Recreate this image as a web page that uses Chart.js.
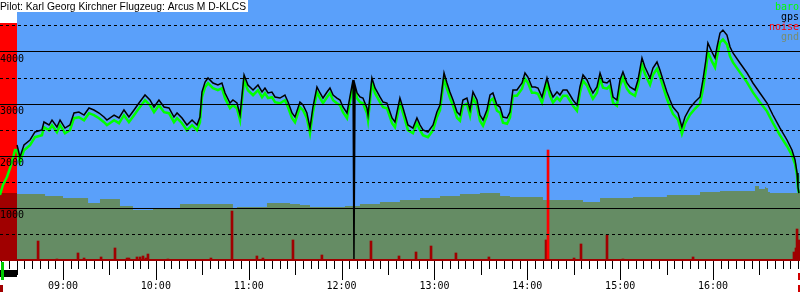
<!DOCTYPE html>
<html lang="de">
<head>
<meta charset="UTF-8">
<title>Barogramm</title>
<script src="https://cdn.jsdelivr.net/npm/chart.js@4"></script>
<style>
  html, body { margin: 0; padding: 0; background: #fff; }
</style>
</head>
<body>
<canvas id="baro" width="800" height="300"></canvas>
<script>
const title = 'Pilot: Karl Georg Kirchner Flugzeug: Arcus M D-KLCS';

// times are minutes after midnight, altitudes in m
const xMin = 499.3, xMax = 1016.2;
const engineRun = [499.3, 510.3];   // red band before release
const bandTop = 4560;
const launchMark = 500.8;
const landMark = 1015.5;

const launchTime = [499.3, 501.2, 503.8, 505.8, 507.7, 509.0];
const launchAlt  = [1250, 1442, 1596, 1769, 1962, 2115];

const flightTime = [
  510.3, 512.2, 514.8, 518.7, 521.9, 526.4, 527.7, 531.0, 532.9, 536.1,
  538.1, 541.3, 544.5, 547.1, 550.3, 553.6, 556.8, 560.0, 563.3, 566.5,
  568.4, 573.0, 576.2, 579.4, 582.6, 585.9, 589.1, 593.0, 596.2, 598.8,
  602.0, 605.3, 608.5, 611.7, 613.7, 616.9, 620.1, 623.4, 626.6, 628.5,
  629.8, 631.8, 633.7, 636.9, 640.1, 642.7, 644.7, 647.9, 649.8, 652.4,
  654.4, 657.0, 659.5, 662.8, 666.0, 668.6, 670.5, 672.5, 675.0, 677.0,
  680.2, 683.4, 685.4, 688.0, 689.9, 693.1, 695.1, 697.6, 699.6, 701.5,
  704.1, 706.1, 708.0, 710.6, 712.5, 714.5, 717.0, 719.0, 720.9, 723.5,
  725.4, 727.4, 728.0, 728.7, 730.0, 731.9, 733.8, 736.4, 737.1, 739.6,
  741.6, 744.8, 746.8, 749.3, 752.6, 754.5, 757.7, 759.7, 762.9, 766.1,
  768.7, 770.7, 772.6, 775.8, 779.1, 781.6, 783.6, 786.2, 788.1, 790.0,
  792.0, 794.6, 796.5, 798.4, 801.0, 803.0, 804.9, 807.5, 809.4, 811.4,
  813.9, 815.9, 817.8, 820.4, 822.4, 824.3, 826.9, 828.8, 830.7, 833.3,
  836.6, 838.5, 840.4, 843.0, 845.0, 846.9, 849.5, 852.7, 854.7, 856.6,
  859.2, 861.1, 863.1, 865.6, 867.6, 869.5, 872.1, 874.0, 876.0, 878.6,
  880.5, 882.4, 885.0, 887.0, 888.9, 891.5, 893.4, 895.4, 897.9, 899.9,
  901.8, 904.4, 906.3, 909.6, 911.5, 914.1, 916.0, 919.3, 921.2, 923.8,
  925.7, 927.7, 930.2, 932.2, 934.1, 937.4, 939.9, 941.9, 945.1, 948.3,
  951.6, 953.5, 955.4, 956.7, 959.3, 961.3, 962.6, 964.5, 966.4, 969.0,
  971.0, 972.9, 977.4, 982.0, 985.8, 990.3, 994.9, 998.7, 1003.3, 1007.8,
  1011.0, 1013.0, 1014.3, 1014.9, 1015.5
];

const gpsAlt = [
  2212, 1981, 2212, 2308, 2462, 2500, 2654, 2596, 2692, 2558,
  2692, 2538, 2596, 2827, 2846, 2788, 2923, 2885, 2827, 2750,
  2692, 2788, 2731, 2885, 2750, 2885, 3019, 3173, 3077, 2942,
  3077, 2942, 2923, 2750, 2827, 2731, 2596, 2692, 2596, 2750,
  3231, 3423, 3500, 3404, 3365, 3404, 3212, 3019, 3077, 3019,
  2788, 3558, 3365, 3269, 3365, 3231, 3308, 3212, 3231, 3135,
  3115, 3173, 3038, 2827, 2750, 3038, 2981, 2827, 2538, 2942,
  3327, 3212, 3115, 3231, 3308, 3173, 3115, 3077, 2942, 2827,
  3135, 3462, 0, 3365, 3212, 3135, 3115, 2923, 2788, 3500,
  3308, 3135, 3038, 3019, 2731, 2654, 3115, 2923, 2596, 2538,
  2731, 2596, 2500, 2462, 2596, 2846, 2981, 3596, 3404, 3231,
  3077, 2846, 2788, 3077, 3115, 2885, 3231, 3077, 2788, 2692,
  2885, 3173, 3212, 2981, 2942, 2750, 2731, 2846, 3269, 3269,
  3404, 3596, 3519, 3327, 3327, 3308, 3135, 3500, 3269, 3135,
  3231, 3173, 3269, 3269, 3173, 3077, 2981, 3327, 3558, 3462,
  3327, 3212, 3327, 3596, 3423, 3404, 3462, 3135, 3077, 3462,
  3615, 3404, 3327, 3269, 3462, 3885, 3712, 3500, 3692, 3808,
  3654, 3462, 3231, 3077, 2942, 2827, 2558, 2750, 2923, 3038,
  3135, 3462, 3846, 4173, 4000, 3885, 4096, 4365, 4423, 4327,
  4096, 3981, 3788, 3596, 3404, 3212, 3019, 2788, 2538, 2308,
  2115, 1923, 1673, 1404, 1288
];

const baroAlt = [
  2112, 1881, 2112, 2208, 2362, 2400, 2554, 2496, 2592, 2458,
  2592, 2438, 2496, 2727, 2746, 2688, 2823, 2785, 2727, 2650,
  2592, 2688, 2631, 2785, 2650, 2785, 2919, 3073, 2977, 2842,
  2977, 2842, 2823, 2650, 2727, 2631, 2496, 2592, 2496, 2650,
  3131, 3323, 3400, 3304, 3265, 3304, 3112, 2919, 2977, 2919,
  2688, 3458, 3265, 3169, 3265, 3131, 3208, 3112, 3131, 3035,
  3015, 3073, 2938, 2727, 2650, 2938, 2881, 2727, 2438, 2842,
  3227, 3112, 3015, 3131, 3208, 3073, 3015, 2977, 2842, 2727,
  3035, 3362, null, 3265, 3112, 3035, 3015, 2823, 2688, 3400,
  3208, 3035, 2938, 2919, 2631, 2554, 3015, 2823, 2496, 2438,
  2631, 2496, 2400, 2362, 2496, 2746, 2881, 3486, 3294, 3121,
  2967, 2736, 2678, 2967, 3005, 2775, 3121, 2967, 2678, 2582,
  2775, 3063, 3102, 2871, 2832, 2640, 2621, 2736, 3159, 3159,
  3294, 3486, 3409, 3217, 3217, 3198, 3025, 3390, 3159, 3025,
  3121, 3063, 3159, 3159, 3063, 2967, 2871, 3217, 3448, 3352,
  3217, 3102, 3217, 3486, 3313, 3294, 3352, 3025, 2967, 3352,
  3505, 3294, 3217, 3159, 3352, 3755, 3582, 3370, 3562, 3678,
  3524, 3332, 3101, 2947, 2812, 2697, 2428, 2620, 2793, 2908,
  3005, 3282, 3666, 3993, 3820, 3705, 3916, 4185, 4243, 4147,
  3916, 3801, 3608, 3416, 3224, 3032, 2859, 2638, 2398, 2188,
  2015, 1843, 1623, 1374, 1288
];

const gndTime = [
  499.3, 528.4, 540.0, 556.2, 563.9, 576.8, 585.2, 598.2, 615.6, 624.0,
  649.8, 652.4, 662.8, 671.8, 678.3, 686.7, 693.1, 699.6, 722.2, 731.9,
  744.8, 757.7, 770.7, 783.6, 796.5, 809.4, 822.4, 828.8, 850.1, 852.7,
  876.0, 887.0, 893.4, 908.3, 930.2, 951.6, 964.5, 987.1, 988.4, 989.7,
  990.3, 993.6, 994.2, 995.5, 996.8, 1003.3, 1016.2
];
const gndAlt = [
  1288, 1269, 1231, 1192, 1096, 1173, 1038, 962, 1000, 1077,
  1077, 981, 1019, 1019, 1096, 1096, 1077, 1058, 1019, 1038,
  1077, 1115, 1154, 1192, 1231, 1269, 1288, 1231, 1212, 1154,
  1154, 1115, 1192, 1192, 1212, 1250, 1308, 1327, 1423, 1423,
  1365, 1365, 1404, 1385, 1308, 1288, 1288
];

const noiseTime = [
  523.9, 536.1, 549.7, 553.6, 564.6, 573.6, 581.4, 582.6, 587.8, 589.8,
  591.7, 593.6, 594.9, 607.8, 635.6, 649.2, 665.3, 669.2, 688.6, 707.3,
  739.0, 757.1, 768.1, 777.8, 793.9, 815.2, 852.1, 853.4, 870.2, 874.7,
  891.5, 901.8, 947.1, 1012.3, 1013.6, 1014.3, 1014.9, 1015.5
];
const noiseVal = [
  365, 19, 135, 38, 58, 231, 38, 38, 58, 58,
  77, 38, 115, 19, 38, 942, 77, 38, 385, 96,
  365, 77, 154, 269, 135, 58, 385, 2115, 38, 308,
  481, 19, 58, 154, 231, 596, 250, 385
];

const legendItems = [
  ['baro', '#00ff00'], ['gps', '#000000'], ['noise', '#ff0000'], ['gnd', '#788c70']
];

const pts = (t, v) => t.map((x, i) => ({ x: x, y: v[i] }));
const hhmm = m => String(Math.floor(m / 60)).padStart(2, '0') + ':' + String(m % 60).padStart(2, '0');
const mono = { family: 'DejaVu Sans Mono', size: 10 };

const decor = {
  id: 'decor',
  beforeDraw(chart) {
    const { ctx, chartArea: a } = chart;
    ctx.save();
    ctx.fillStyle = '#5aa0fa';
    ctx.fillRect(a.left, a.top, a.width, a.height);
    ctx.restore();
  },
  afterDatasetDraw(chart, args) {
    if (chart.data.datasets[args.index].label !== 'gnd') return;
    const { ctx } = chart;
    const xs = chart.scales.x, ys = chart.scales.y;
    const x0 = xs.getPixelForValue(engineRun[0]);
    const x1 = Math.round(xs.getPixelForValue(engineRun[1]));
    const yMax = ys.getPixelForValue(5000);
    const yTop = Math.round(ys.getPixelForValue(bandTop));
    const yG = Math.round(ys.getPixelForValue(gndAlt[0]));
    const y0 = ys.getPixelForValue(0);
    ctx.save();
    ctx.fillStyle = '#ffffff';
    ctx.fillRect(x0, yMax, x1 - x0, yTop - yMax);
    ctx.fillStyle = '#ff0000';
    ctx.fillRect(x0, yTop, x1 - x0, yG - yTop);
    ctx.fillStyle = '#a00000';
    ctx.fillRect(x0, yG, x1 - x0, y0 - yG);
    ctx.restore();
  },
  afterDraw(chart) {
    const { ctx } = chart;
    const xs = chart.scales.x;
    ctx.save();

    // time ticks: 5 min, 30 min, 1 h
    ctx.strokeStyle = '#000';
    ctx.lineWidth = 1;
    xs.ticks.forEach(t => {
      const m = Math.round(t.value);
      if (Math.abs(t.value - m) > 1e-6 || m % 5) return;
      const len = m % 60 === 0 ? 19 : (m % 30 === 0 ? 14 : 8);
      const px = Math.round(xs.getPixelForValue(m)) + 0.5;
      ctx.beginPath();
      ctx.moveTo(px, xs.top + 1);
      ctx.lineTo(px, xs.top + 1 + len);
      ctx.stroke();
    });

    // event markers below the axis
    const e0 = xs.getPixelForValue(engineRun[0]);
    const e1 = Math.round(xs.getPixelForValue(engineRun[1]));
    ctx.fillStyle = '#000';
    ctx.fillRect(e0, 270, e1 - e0, 7);
    ctx.fillStyle = '#00cc00';
    ctx.fillRect(Math.round(xs.getPixelForValue(launchMark)) - 1, 262, 3, 18);
    ctx.fillStyle = '#a00000';
    ctx.fillRect(e0, 285, 3, 7);
    const lx = Math.round(xs.getPixelForValue(landMark)) - 1;
    ctx.fillStyle = '#d00000';
    ctx.fillRect(lx, 273, 2, 7);
    ctx.fillRect(lx, 285, 2, 7);

    // title with white box
    ctx.font = '10.3px "Liberation Sans", Arial, sans-serif';
    const w = ctx.measureText(title).width;
    ctx.fillStyle = '#fff';
    ctx.fillRect(0, 0, Math.ceil(w) + 1, 12);
    ctx.fillStyle = '#000';
    ctx.textBaseline = 'alphabetic';
    ctx.fillText(title, 0, 10);

    // legend, right aligned
    ctx.font = '10px "DejaVu Sans Mono", monospace';
    ctx.textAlign = 'right';
    legendItems.forEach((it, i) => {
      ctx.fillStyle = it[1];
      ctx.fillText(it[0], 799, 10 + i * 10);
    });
    ctx.restore();
  }
};

new Chart(document.getElementById('baro'), {
  type: 'line',
  data: {
    datasets: [
      {
        label: 'gps', data: pts(flightTime, gpsAlt), order: 1,
        borderColor: '#000000', borderWidth: 1.5, pointRadius: 0
      },
      {
        label: 'baro', data: pts(launchTime.concat(flightTime), launchAlt.concat(baroAlt)), order: 2,
        borderColor: '#00ff00', borderWidth: 2.5, pointRadius: 0, spanGaps: true
      },
      {
        type: 'bar', label: 'noise', data: pts(noiseTime, noiseVal), order: 3,
        backgroundColor: c => (c.raw && c.raw.y > 1000) ? '#ff0000' : '#a00000',
        barThickness: 2
      },
      {
        label: 'gnd', data: pts(gndTime, gndAlt), order: 4,
        stepped: 'after', fill: 'origin', borderWidth: 0,
        borderColor: '#658c64', backgroundColor: '#658c64', pointRadius: 0
      }
    ]
  },
  options: {
    responsive: false,
    animation: false,
    layout: { autoPadding: false, padding: 0 },
    plugins: { legend: { display: false }, tooltip: { enabled: false } },
    scales: {
      x: {
        type: 'linear', min: xMin, max: xMax, offset: false,
        grid: { drawOnChartArea: false, drawTicks: false, z: 1 },
        border: { display: true, color: '#a00000', width: 2, z: 1 },
        ticks: {
          stepSize: 5, includeBounds: false, autoSkip: false, maxRotation: 0,
          padding: 20, color: '#000', font: mono, z: 1,
          callback: v => {
            const m = Math.round(v);
            if (Math.abs(v - m) > 1e-6 || m % 5) return null;
            return m % 60 === 0 ? hhmm(m) : '';
          }
        },
        afterFit: s => { s.height = 40; s.paddingLeft = 0; s.paddingRight = 0; }
      },
      y: {
        min: 0, max: 5000,
        grid: {
          drawTicks: false, lineWidth: 1, z: 1,
          color: c => (c.tick && c.tick.value > 0 && c.tick.value < 5000) ? '#000' : 'rgba(0,0,0,0)'
        },
        border: { display: false, z: 1, dash: c => (c.tick && c.tick.value % 1000 === 0) ? [] : [3, 3] },
        ticks: {
          stepSize: 500, mirror: true, padding: 0, labelOffset: 7, z: 1,
          color: '#000', font: mono,
          callback: v => (v <= 0 || v >= 5000) ? null : (v % 1000 === 0 ? String(v) : '')
        },
        afterFit: s => { s.width = 0; s.paddingTop = 0; s.paddingBottom = 0; }
      }
    }
  },
  plugins: [decor]
});
</script>
</body>
</html>
